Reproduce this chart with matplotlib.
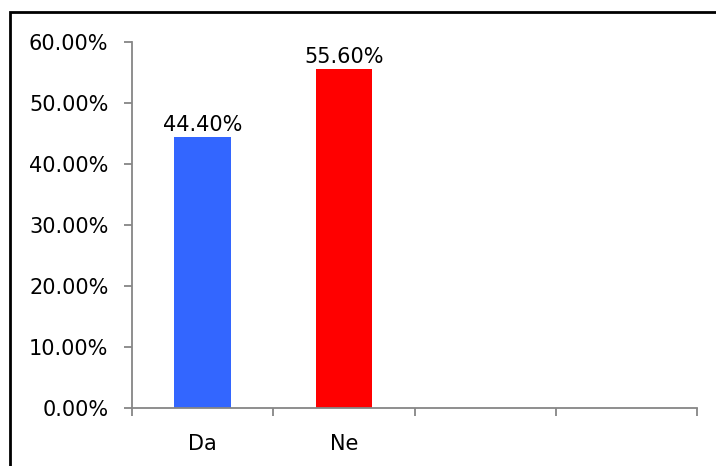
import numpy as np
import matplotlib
matplotlib.use('Agg')
import matplotlib.pyplot as plt
from matplotlib.patches import Rectangle
from matplotlib.ticker import FuncFormatter, FixedLocator

categories = ['Da', 'Ne', '', '']
values = [0.444, 0.556]
bar_colors = ['#3366FF', '#FF0000']
yticks = [0.0, 0.1, 0.2, 0.3, 0.4, 0.5, 0.6]

plt.rcParams['font.family'] = ['DejaVu Sans']
fig = plt.figure(figsize=(7.16, 4.66), dpi=100)
ax = fig.add_axes([132/716, 1 - 407.7/466, (697 - 132)/716, (407.7 - 41.7)/466])

x = np.arange(len(values))
bars = ax.bar(x, values, width=0.4, color=bar_colors)
for b, v in zip(bars, values):
    ax.text(b.get_x() + b.get_width()/2, v + 0.003, '%.2f%%' % (v*100),
            ha='center', va='bottom', fontsize=15, color='black')

ax.set_xlim(-0.5, len(categories) - 0.5)
ax.set_ylim(0, 0.6)
ax.set_yticks(yticks)
ax.yaxis.set_major_formatter(FuncFormatter(lambda v, p: '%.2f%%' % (v*100)))

ax.xaxis.set_major_locator(FixedLocator(np.arange(len(categories) + 1) - 0.5))
ax.xaxis.set_major_formatter(FuncFormatter(lambda v, p: ''))
ax.set_xticks(np.arange(len(categories)), minor=True)
ax.set_xticklabels(categories, minor=True)

for s in ['top', 'right']:
    ax.spines[s].set_visible(False)
for s in ['left', 'bottom']:
    ax.spines[s].set_color('#868686')
    ax.spines[s].set_linewidth(1.3)

ax.tick_params(axis='y', which='major', direction='out', length=6, width=1.3,
               color='#868686', labelsize=15, pad=11)
ax.tick_params(axis='x', which='major', direction='out', length=6, width=1.3,
               color='#868686')
ax.tick_params(axis='x', which='minor', length=0, labelsize=15, pad=19)

fig.patches.append(Rectangle((10/716, -0.1), 1.2, 1 - 12/466 + 0.1,
                             transform=fig.transFigure, fill=False,
                             edgecolor='black', linewidth=2))

fig.savefig('out.png', dpi=100)
